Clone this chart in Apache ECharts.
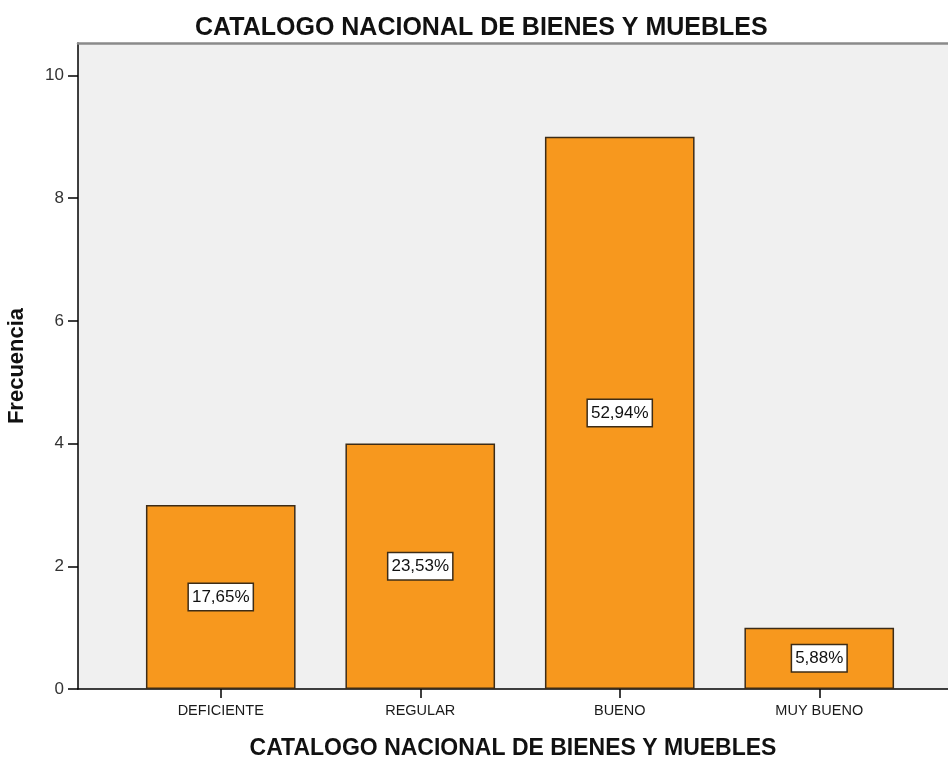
<!DOCTYPE html>
<html>
<head>
<meta charset="utf-8">
<script src="https://cdn.jsdelivr.net/npm/echarts@6/dist/echarts.min.js"></script>
<style>
  html, body { margin: 0; padding: 0; background: #fff; }
  #chart { width: 948px; height: 758px; }
</style>
</head>
<body>
<div id="chart"></div>
<script>
// datos del grafico
const categories = ['DEFICIENTE', 'REGULAR', 'BUENO', 'MUY BUENO']
const frequencies = [3, 4, 9, 1]
const yTicks = [0, 2, 4, 6, 8, 10]
const chartTitle = 'CATALOGO NACIONAL DE BIENES Y MUEBLES'

const total = frequencies.reduce((a, b) => a + b, 0)
const yMax = 10.53
const font = '"Liberation Sans", Arial, sans-serif'

const chart = echarts.init(document.getElementById('chart'))

chart.setOption({
  animation: false,
  title: {
    text: chartTitle,
    left: 190,
    top: 11,
    textStyle: { fontFamily: font, fontSize: 25, fontWeight: 'bold', color: '#111' }
  },
  grid: [
    // fondo gris del area de trazado
    { left: 78, right: 0, top: 43, bottom: 69, show: true, backgroundColor: '#F0F0F0', borderWidth: 0, outerBoundsMode: 'none', containLabel: false },
    // barras
    { left: 121, right: 29, top: 43, bottom: 69, outerBoundsMode: 'none', containLabel: false }
  ],
  xAxis: [
    {
      gridIndex: 0, type: 'value', min: 0, max: 1, position: 'bottom',
      axisLine: { show: true, lineStyle: { color: '#000', width: 1.5 } },
      axisTick: { show: false }, axisLabel: { show: false }, splitLine: { show: false },
      name: chartTitle, nameLocation: 'middle', nameGap: 48,
      nameTextStyle: { fontFamily: font, fontSize: 23, fontWeight: 'bold', color: '#111' }
    },
    {
      gridIndex: 0, type: 'value', min: 0, max: 1, position: 'top',
      axisLine: { show: true, lineStyle: { color: '#8a8a8a', width: 2.5 } },
      axisTick: { show: false }, axisLabel: { show: false }, splitLine: { show: false }
    },
    {
      gridIndex: 1, type: 'category', data: categories, boundaryGap: true,
      axisLine: { show: false },
      axisTick: { show: true, alignWithLabel: true, length: 9, lineStyle: { color: '#000', width: 1.5 } },
      axisLabel: { margin: 14, fontFamily: font, fontSize: 14.5, color: '#1a1a1a' }
    }
  ],
  yAxis: [
    {
      gridIndex: 0, type: 'value', min: 0, max: yMax,
      axisLine: { show: true, lineStyle: { color: '#000', width: 1.5 } },
      axisTick: { show: true, length: 10, customValues: yTicks, lineStyle: { color: '#000', width: 1.5 } },
      axisLabel: { customValues: yTicks, margin: 14, fontFamily: font, fontSize: 17, color: '#333' },
      splitLine: { show: false },
      name: 'Frecuencia', nameLocation: 'middle', nameGap: 50,
      nameTextStyle: { fontFamily: font, fontSize: 22, fontWeight: 'bold', color: '#111' }
    },
    { gridIndex: 1, type: 'value', min: 0, max: yMax, show: false }
  ],
  series: [{
    type: 'bar',
    xAxisIndex: 2,
    yAxisIndex: 1,
    data: frequencies,
    barWidth: '75%',
    itemStyle: { color: '#F7981E', borderColor: '#3d2c17', borderWidth: 1.5 },
    label: {
      show: true,
      position: 'inside',
      formatter: p => (p.value / total * 100).toFixed(2).replace('.', ',') + '%',
      fontFamily: font,
      fontSize: 17,
      color: '#111',
      backgroundColor: '#fff',
      borderColor: '#3d2c17',
      borderWidth: 1.5,
      padding: [5, 3, 4, 3]
    }
  }]
})
</script>
</body>
</html>
